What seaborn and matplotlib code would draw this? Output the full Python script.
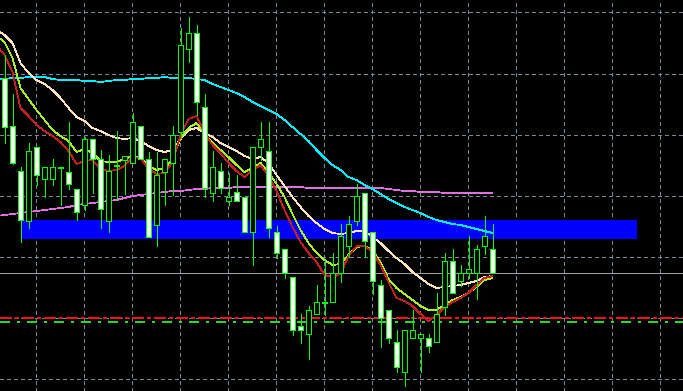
import matplotlib
matplotlib.use("Agg")
import matplotlib.pyplot as plt
from matplotlib.patches import Rectangle
import pandas as pd
import seaborn as sns

# ---- candle data (price points, 62 bars) ----
opens = [313, 265, 220, 170, 244, 212, 212, 224, 219, 202, 186, 252, 232, 170, 225, 231,
         228, 265, 232, 166, 219, 228, 259, 342, 358, 284, 198, 220, 190, 199, 194, 159,
         244, 240, 159, 142, 114, 65, 57, 77, 88, 89, 118, 145, 170, 198, 159, 106,
         81, 49, 19, 53, 53, 53, 49, 84, 130, 110, 118, 118, 145, 142]
highs = [336, 297, 224, 248, 244, 224, 232, 224, 269, 202, 254, 252, 241, 236, 260, 235,
         278, 265, 239, 239, 232, 265, 363, 374, 366, 297, 240, 228, 218, 216, 194, 244,
         269, 269, 165, 142, 114, 77, 85, 106, 131, 138, 167, 175, 207, 198, 159, 111,
         81, 61, 61, 81, 57, 57, 98, 138, 142, 126, 155, 146, 175, 167]
lows = [248, 227, 149, 163, 206, 194, 206, 186, 202, 171, 181, 198, 163, 159, 191, 197,
        228, 232, 154, 145, 186, 196, 253, 329, 276, 194, 190, 198, 186, 190, 159, 126,
        231, 154, 133, 113, 56, 48, 32, 77, 76, 89, 109, 134, 166, 134, 97, 44,
        48, 19, 5, 53, 19, 39, 49, 76, 98, 105, 113, 92, 137, 118]
closes = [264, 228, 171, 240, 216, 224, 224, 223, 207, 179, 252, 232, 182, 220, 226, 235,
          269, 232, 154, 216, 232, 256, 346, 358, 289, 203, 224, 203, 194, 190, 159, 244,
          252, 163, 138, 118, 61, 61, 81, 89, 89, 118, 155, 167, 195, 150, 110, 73,
          53, 24, 61, 61, 57, 45, 77, 130, 98, 118, 122, 142, 155, 118]

# ---- moving averages (bars -1 .. 61) ----
ma_red = [346, 336, 319, 283, 275, 266, 260, 255, 249, 240, 227, 230, 231, 222, 220, 221,
          225, 234, 233, 222, 217, 218, 229, 256, 272, 275, 258, 246, 238, 228, 220, 214,
          221, 226, 215, 200, 181, 164, 149, 138, 129, 116, 114, 117, 135, 145, 145, 139,
          126, 109, 93, 90, 85, 77, 70, 76, 84, 89, 93, 98, 106, 113, 115]
ma_green = [355, 349, 333, 303, 292, 281, 271, 261, 255, 250, 239, 242, 238, 230, 229, 229,
            232, 235, 234, 225, 221, 223, 231, 253, 263, 268, 257, 248, 241, 234, 226, 219,
            223, 228, 219, 207, 194, 177, 161, 148, 138, 131, 126, 127, 136, 144, 145, 141,
            129, 112, 103, 97, 91, 85, 81, 81, 86, 91, 94, 98, 104, 111, 113]
ma_wheat = [361, 356, 348, 328, 318, 311, 307, 301, 293, 283, 274, 270, 263, 260, 256, 253,
            252, 253, 250, 245, 241, 239, 241, 252, 261, 263, 258, 254, 248, 244, 240, 235,
            232, 234, 228, 216, 205, 194, 184, 175, 168, 162, 158, 157, 158, 160, 160, 154,
            148, 140, 133, 127, 119, 113, 107, 103, 104, 105, 106, 108, 110, 114, 115]
ma_cyan = [312, 312, 313, 313, 314, 314, 314, 312, 311, 311, 311, 310, 310, 309, 310, 311,
           311, 312, 312, 313, 313, 314, 313, 313, 313, 312, 311, 307, 304, 301, 298, 294,
           289, 285, 281, 277, 271, 264, 257, 250, 241, 233, 226, 221, 214, 211, 206, 202,
           197, 192, 188, 184, 181, 178, 174, 171, 169, 167, 166, 164, 162, 160, 158]
ma_violet = [175, 176, 177, 178, 179, 180, 181, 182, 183, 184, 186, 187, 188, 189, 190, 191,
             193, 195, 196, 197, 198, 199, 200, 200, 201, 202, 202, 203, 203, 203, 204, 204,
             204, 204, 204, 204, 204, 204, 204, 203, 203, 203, 203, 203, 203, 203, 203, 203,
             203, 202, 201, 200, 200, 199, 199, 199, 198, 198, 198, 198, 198, 198, 198]

bid_level = 118
red_level = 73
green_level = 69
zone_low, zone_high = 152, 171
zone_start, zone_end = 2, 79

bars = list(range(len(opens)))
ma_bars = list(range(-1, len(opens)))

sns.set_theme(style="dark", rc={"axes.facecolor": "black", "figure.facecolor": "black"})

fig = plt.figure(figsize=(6.83, 3.91), dpi=100)
ax = fig.add_axes([0, 0, 1, 1])
ax.set_facecolor("black")

ax.set_xlim(-0.5625, 84.8125)
ax.set_ylim(0, 391)

PX = 0.72  # one pixel in points at 100 dpi

# grid
ax.set_xticks([3.9375 + 6 * k for k in range(14)])
ax.set_yticks([12, 73, 134, 195, 256, 317, 379])
ax.grid(True, color="#7a8899", linestyle=(0, (4, 4)), linewidth=PX, antialiased=False)
ax.tick_params(left=False, bottom=False, labelleft=False, labelbottom=False)
for s in ax.spines.values():
    s.set_visible(False)

# zone rectangle
ax.add_patch(Rectangle((zone_start, zone_low), zone_end - zone_start, zone_high - zone_low,
                       facecolor="#0000ff", edgecolor="none", zorder=1.5, antialiased=False))

# horizontal levels
ax.axhline(bid_level, color="#a0a0a8", linewidth=PX, zorder=2, antialiased=False)
ax.axhline(red_level, color="#ff1010", linewidth=1.4, linestyle=(0, (6, 2, 2, 2)), zorder=2,
           antialiased=False)
ax.axhline(green_level, color="#22dd22", linewidth=1.4, linestyle=(0, (5, 4, 1.5, 4)), zorder=2,
           antialiased=False)

# moving averages
df = pd.DataFrame({"bar": ma_bars, "violet": ma_violet, "cyan": ma_cyan,
                   "wheat": ma_wheat, "green": ma_green, "red": ma_red})
for col, colr in [("violet", "#e070e0"), ("cyan", "#00f0ff"), ("wheat", "#fde3c0"),
                  ("green", "#a8f020"), ("red", "#c02020")]:
    sns.lineplot(data=df, x="bar", y=col, color=colr, linewidth=0.55, ax=ax, zorder=3,
                 antialiased=False)

# candles
ax.vlines(bars, lows, highs, color="#00ff00", linewidth=PX, zorder=4, antialiased=False)
bottoms = [min(o, c) for o, c in zip(opens, closes)]
heights = [abs(c - o) for o, c in zip(opens, closes)]
faces = ["white" if c < o else "black" for o, c in zip(opens, closes)]
ax.bar(bars, heights, bottom=bottoms, width=0.55, color=faces, edgecolor="#00ff00",
       linewidth=PX, zorder=5, antialiased=False)

ax.set_xlabel("")
ax.set_ylabel("")
ax.set_xlim(-0.5625, 84.8125)
ax.set_ylim(0, 391)

fig.savefig("out.png", dpi=100, facecolor="black")
